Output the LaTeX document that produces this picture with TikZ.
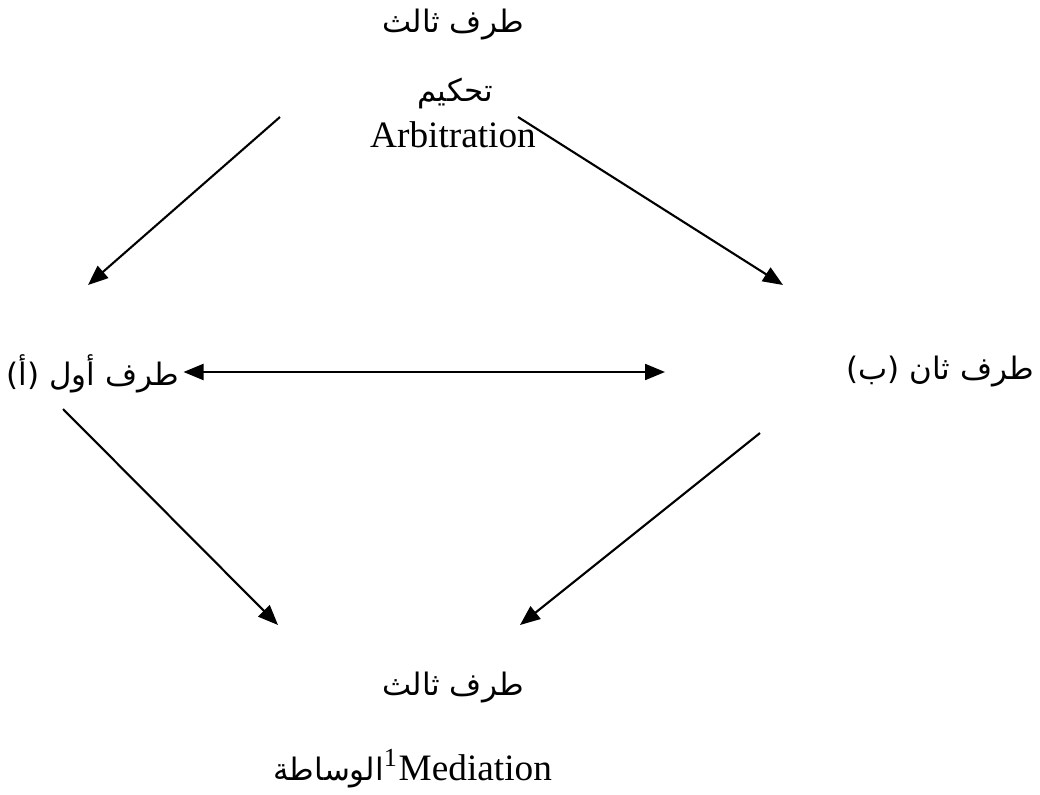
\documentclass[tikz,border=0pt]{standalone}
\usepackage{fontspec}
\setmainfont{Liberation Serif}
\newfontfamily\arabicfont[Script=Arabic,Scale=0.83]{DejaVu Sans}
\TeXXeTstate=1
\usetikzlibrary{arrows.meta}

\newcommand{\artext}[1]{{\arabicfont\beginR #1\endR}}

\begin{document}
\begin{tikzpicture}[x=0.01cm,y=-0.01cm,line width=0.6pt,
  font=\fontsize{10.6}{12}\selectfont,
  arr/.style={-{Triangle[length=0.2cm,width=0.16cm]}},
  dbl/.style={{Triangle[length=0.2cm,width=0.16cm]}-{Triangle[length=0.2cm,width=0.16cm]}},
  lbl/.style={inner sep=0pt}]
  \useasboundingbox (0,0) rectangle (1040,794);

  % Third party (arbitration)
  \node[lbl] (top3) at (453,25) {\artext{طرف ثالث}};
  \node[lbl] (arbAr) at (455,93) {\artext{تحكيم}};
  \node[lbl,anchor=base] (arbEn) at (453,148) {Arbitration};

  % The two parties
  \node[lbl,anchor=east] (partyA) at (180,374) {\artext{طرف أول (أ)}};
  \node[lbl,anchor=east] (partyB) at (1035,372) {\artext{طرف ثان (ب)}};

  % Third party (mediation)
  \node[lbl] (bot3) at (453,688) {\artext{طرف ثالث}};
  \node[lbl,anchor=base east] (medEn) at (553,780)
    {\artext{الوساطة}\textsuperscript{1}Mediation};

  % Free ends of the arrows
  \coordinate (tlS) at (280,117);
  \coordinate (tlE) at (88,285);
  \coordinate (trS) at (518,117);
  \coordinate (trE) at (783,285);
  \coordinate (dblE) at (665,372);
  \coordinate (blS) at (63,409);
  \coordinate (blE) at (278,625);
  \coordinate (brS) at (760,433);
  \coordinate (brE) at (520,625);

  % Arrows
  \draw[arr] (tlS) -- (tlE);
  \draw[arr] (trS) -- (trE);
  \draw[dbl] ([xshift=1pt]partyA.east |- dblE) -- (dblE);
  \draw[arr] (blS) -- (blE);
  \draw[arr] (brS) -- (brE);
\end{tikzpicture}
\end{document}
